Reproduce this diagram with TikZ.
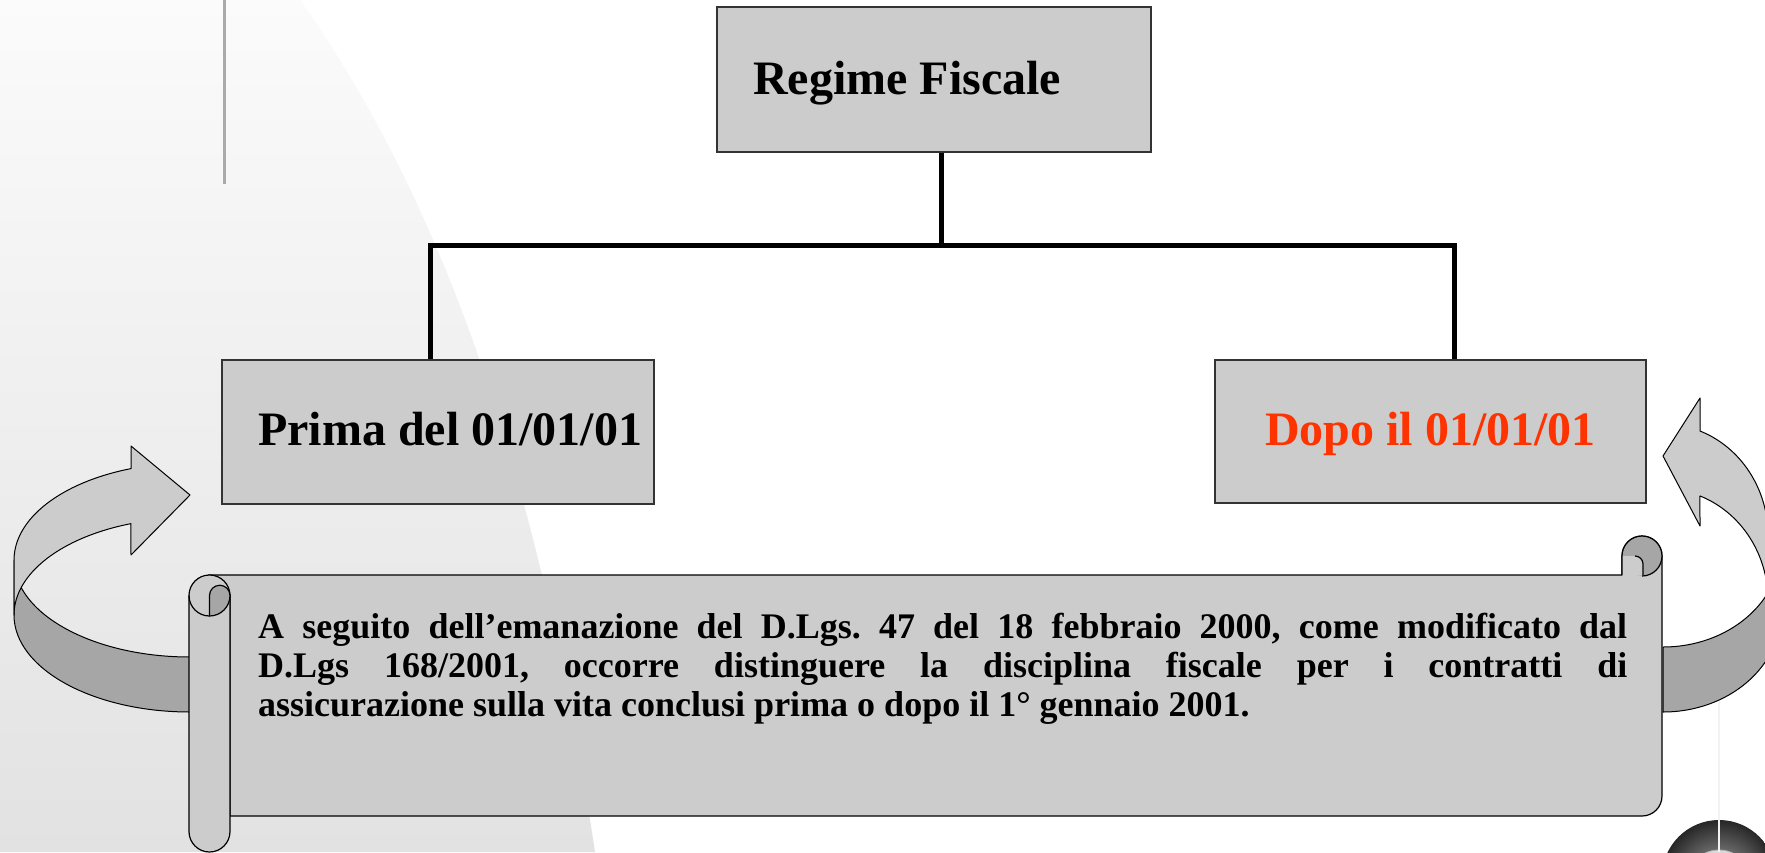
\documentclass[tikz,border=0pt]{standalone}
\usepackage{fontspec}
\setmainfont{Liberation Serif}
\usetikzlibrary{calc}
\definecolor{boxgray}{RGB}{204,204,204}
\definecolor{darkband}{RGB}{166,166,166}
\definecolor{edgegray}{RGB}{51,51,51}
\definecolor{redtxt}{RGB}{255,51,0}
\definecolor{bgtop}{RGB}{251,251,251}
\definecolor{bgbot}{RGB}{226,226,226}
\definecolor{rulegray}{RGB}{170,170,170}
\begin{document}
\begin{tikzpicture}[x=1pt,y=-1pt,
  box/.style={draw=edgegray, line width=1.2pt, fill=boxgray, inner sep=0pt},
  title/.style={font=\fontsize{48}{58}\selectfont\bfseries, inner sep=0pt, anchor=base west},
  conn/.style={line width=5pt, draw=black, line join=miter},
  ribbon/.style={draw=black, line width=1pt, line join=round},
  scrollfill/.style={fill=boxgray, draw=black, line width=1.2pt},
  rollfill/.style={fill=darkband, draw=black, line width=1.2pt}]
\useasboundingbox (0,0) rectangle (1765,852);
\clip (0,0) rectangle (1765,852);
\fill[white] (0,0) rectangle (1765,852);
% background
\shade[top color=bgtop, bottom color=bgbot] (0,0) -- (300,0) .. controls (420,170) and (530,420) .. (595,852) -- (0,852) -- cycle;
% top-left rule
\draw[rulegray, line width=3pt] (224,0) -- (224,184);
% dome and pendulum line
\shade[inner color=black!35, outer color=black!85] (1719,877) circle[radius=57];
\draw[gray!60, fill=gray!30, line width=0.8pt] (1719,864) ellipse[x radius=22, y radius=14];
\draw[draw=gray!70, double=gray!10, double distance=1.2pt, line width=0.7pt] (1719,690) -- (1719,852);
% left curved arrow
\draw[ribbon, fill=darkband] (190,657) arc[start angle=90, end angle=180, x radius=176, y radius=97] -- (14,615) arc[start angle=180, end angle=90, x radius=176, y radius=97] -- cycle;
\draw[ribbon, fill=boxgray] (131,468.6) arc[start angle=250.4, end angle=180, x radius=176, y radius=97] -- (14,615) arc[start angle=180, end angle=250.4, x radius=176, y radius=97] -- (131,555) -- (190,495) -- (131,446) -- cycle;
% right curved arrow
\draw[ribbon, fill=darkband] (1663,647) arc[start angle=90, end angle=0, x radius=118, y radius=100] -- (1781,612) arc[start angle=0, end angle=90, x radius=118, y radius=100] -- cycle;
\draw[ribbon, fill=boxgray] (1700,431) arc[start angle=-69.4, end angle=0, x radius=105, y radius=111.6] -- (1768,600.4) arc[start angle=0, end angle=-69.4, x radius=105, y radius=111.6] -- (1700,526) -- (1663,456) -- (1700,398) -- cycle;
% scroll body
\draw[scrollfill] (209.5,575) -- (1622,575) -- (1622,556) arc[start angle=180, end angle=360, radius=20] -- (1662,796) arc[start angle=0, end angle=90, radius=20] -- (230,816) -- (230,595) -- cycle;
\fill[darkband] (1642,556) circle[radius=20];
\fill[boxgray] (1622,556) -- (1635,556) arc[start angle=270, end angle=360, radius=8] -- (1643,575.5) -- (1622,575.5) -- cycle;
\draw[line width=1.2pt] (1622,575) -- (1622,556) arc[start angle=180, end angle=450, radius=20];
\draw[line width=1.2pt] (1635,556) arc[start angle=270, end angle=360, radius=8] -- (1643,575);
% scroll tube
\draw[scrollfill] (189,595.5) -- (189,831.5) arc[start angle=180, end angle=0, radius=20.5] -- (230,595.5) arc[start angle=0, end angle=-180, radius=20.5] -- cycle;
\draw[rollfill] (209.5,616) -- (209.5,595.5) arc[start angle=180, end angle=360, radius=10.25] arc[start angle=0, end angle=90, radius=20.5] -- cycle;
\draw[line width=1.2pt] (189,595.5) arc[start angle=180, end angle=90, radius=20.5];
% scroll text
\node[inner sep=0pt, anchor=north west, text width=1369pt,
      font=\fontsize{36}{39}\selectfont\bfseries\frenchspacing] (note) at (258,613)
  {\spaceskip=0.25em plus 3em minus 0.05em
   \hbox to 1369pt{A seguito dell’emanazione del D.Lgs. 47 del 18 febbraio 2000, come modificato dal}
   \hbox to 1369pt{D.Lgs 168/2001, occorre distinguere la disciplina fiscale per i contratti di}
   \hbox{assicurazione sulla vita conclusi prima o dopo il 1° gennaio 2001.}};
% boxes
\node[box, minimum width=434pt, minimum height=145pt] (top) at (934,79.5) {};
\node[title] (ttop) at (753,94) {Regime Fiscale};
\node[box, minimum width=432pt, minimum height=144pt] (prima) at (438,432) {};
\node[title] (tprima) at (258,445) {Prima del 01/01/01};
\node[box, minimum width=431pt, minimum height=143pt] (dopo) at (1430.5,431.5) {};
\node[title, text=redtxt] (tdopo) at (1265,445) {Dopo il 01/01/01};
% connectors
\coordinate (hub) at ([xshift=7pt]top.south |- 0,245);
\draw[conn] ([xshift=7pt]top.south) -- (hub);
\draw[conn] ([xshift=-8pt]prima.north) |- (hub) -| ([xshift=23.5pt]dopo.north);
\end{tikzpicture}
\end{document}
